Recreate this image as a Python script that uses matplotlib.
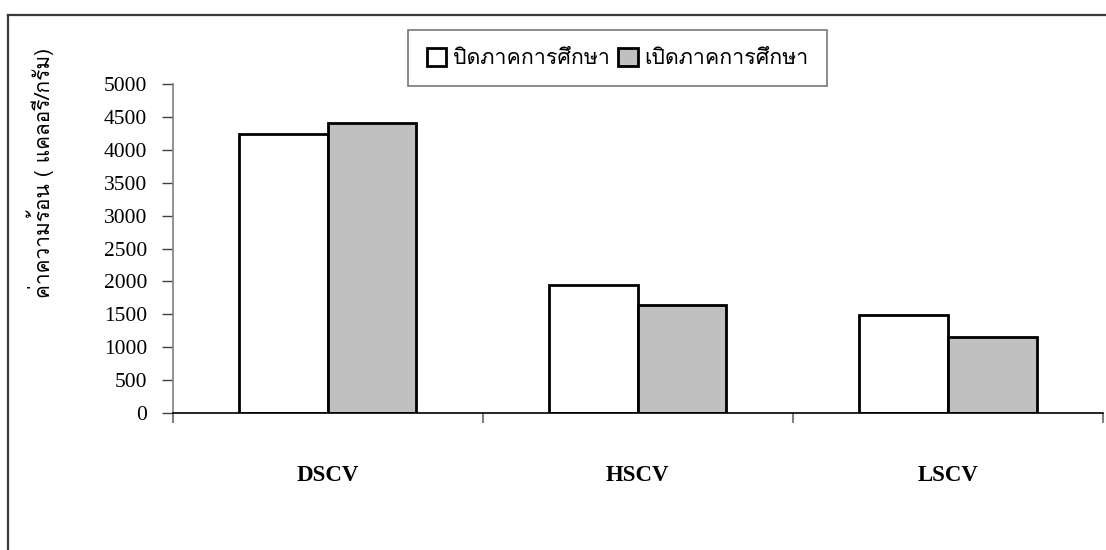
import matplotlib
matplotlib.use("Agg")
import matplotlib.pyplot as plt
from matplotlib.lines import Line2D
import numpy as np

# Heating value by sample type, semester closed vs. open
categories = ["DSCV", "HSCV", "LSCV"]
series_names = ["ปิดภาคการศึกษา", "เปิดภาคการศึกษา"]
closed_term = [4230, 1940, 1490]
open_term = [4410, 1650, 1160]
y_ticks = list(range(0, 5001, 500))
y_label = "ค่าความร้อน ( แคลอรี/กรัม)"

thai_font = ["Loma", "DejaVu Sans"]
num_font = ["Liberation Serif", "DejaVu Serif"]

W, H = 1106, 550
fig = plt.figure(figsize=(W / 100, H / 100), dpi=100)
fig.patch.set_facecolor("white")

# plot area in pixel coordinates
ax_l, ax_r, ax_b, ax_t = 172.7, 1103.0, 413.3, 83.7
ax = fig.add_axes([ax_l / W, 1 - ax_b / H, (ax_r - ax_l) / W, (ax_b - ax_t) / H])

x = np.arange(len(categories))
w = 1 / 3.5
b1 = ax.bar(x - w / 2, closed_term, w, color="white", edgecolor="black",
            linewidth=2.0, label=series_names[0], zorder=3)
b2 = ax.bar(x + w / 2, open_term, w, color="#C0C0C0", edgecolor="black",
            linewidth=2.0, label=series_names[1], zorder=3)

ax.set_xlim(-0.5, len(categories) - 0.5)
ax.set_ylim(0, 5000)
ax.set_yticks(y_ticks)
ax.set_yticklabels([str(v) for v in y_ticks], fontfamily=num_font, fontsize=15.5)

ax.set_xticks(np.arange(-0.5, len(categories), 1.0))
ax.set_xticklabels([])
ax.set_xticks(x, categories, minor=True)
for lab in ax.get_xticklabels(minor=True):
    lab.set_fontfamily(num_font)
    lab.set_fontweight("bold")
    lab.set_fontsize(16.5)

ax.tick_params(axis="y", direction="out", length=8, width=1, color="#404040", pad=10.5)
ax.tick_params(axis="x", which="major", direction="out", length=7.5, width=1.5, color="#808080")
ax.tick_params(axis="x", which="minor", length=0, pad=37)

for s in ("top", "right"):
    ax.spines[s].set_visible(False)
ax.spines["left"].set_color("#808080")
ax.spines["left"].set_linewidth(1.2)
ax.spines["bottom"].set_color("black")
ax.spines["bottom"].set_linewidth(1.2)
ax.spines["bottom"].set_zorder(4)

fig.text(40 / W, 1 - 173 / H, y_label, rotation=90, ha="center", va="center",
         fontfamily=thai_font, fontsize=15)

leg = ax.legend(handles=[b1, b2], loc="center", ncol=2,
                bbox_to_anchor=(617.5 / W, 1 - 58 / H), bbox_transform=fig.transFigure,
                prop={"family": thai_font, "size": 15.4}, frameon=True, fancybox=False,
                edgecolor="#555555", handlelength=0.92, handleheight=0.92,
                handletextpad=0.3, columnspacing=0.4, borderpad=0.85, borderaxespad=0)
leg.get_frame().set_linewidth(1.2)

# outer chart border (top and left edges visible)
fy = 1 - 15 / H
fx = 8 / W
fig.add_artist(Line2D([fx, 1], [fy, fy], transform=fig.transFigure, color="#3a3a3a", lw=1.6))
fig.add_artist(Line2D([fx, fx], [0, fy], transform=fig.transFigure, color="#3a3a3a", lw=1.6))

fig.savefig("out.png", dpi=100)
